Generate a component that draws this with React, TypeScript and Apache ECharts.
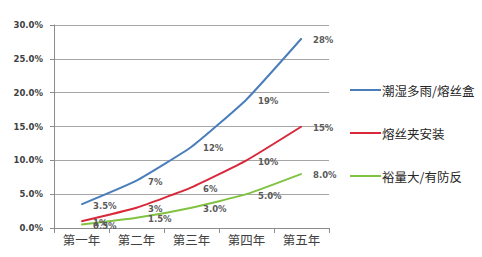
import React, { useEffect, useRef } from "react";
import * as echarts from "echarts";

const categories = ["第一年", "第二年", "第三年", "第四年", "第五年"];
const seriesNames = ["潮湿多雨/熔丝盒", "熔丝夹安装", "裕量大/有防反"];
const blueValues = [3.5, 7, 12, 19, 28];
const redValues = [1, 3, 6, 10, 15];
const greenValues = [0.5, 1.5, 3, 5, 8];
const blueLabels = ["3.5%", "7%", "12%", "19%", "28%"];
const redLabels = ["1%", "3%", "6%", "10%", "15%"];
const greenLabels = ["0.5%", "1.5%", "3.0%", "5.0%", "8.0%"];
const colors = ["#4a7ebb", "#d8283a", "#80c342"];

export default function App() {
  const ref = useRef<HTMLDivElement>(null);
  useEffect(() => {
    if (!ref.current) return;
    const chart = echarts.init(ref.current, undefined, { renderer: "svg" });
    const labelFont = {
      fontFamily: "DejaVu Sans",
      fontSize: 8.5,
      fontWeight: "bold" as const,
      color: "#595959",
    };
    const mk = (name: string, data: number[], labels: string[], color: string) => ({
      name,
      type: "line",
      data,
      smooth: 0.15,
      symbol: "circle",
      symbolSize: 1,
      showSymbol: true,
      itemStyle: { color },
      lineStyle: { color, width: 2 },
      label: {
        show: true,
        position: "right",
        distance: 11,
        offset: [0, 1.5],
        formatter: (p: any) => labels[p.dataIndex],
        ...labelFont,
      },
    });
    chart.setOption({
      animation: false,
      grid: { left: 54, right: 153, top: 25, bottom: 29 },
      legend: {
        orient: "vertical",
        left: 350,
        top: 83,
        padding: 0,
        icon: "rect",
        itemWidth: 31,
        itemHeight: 2,
        itemGap: 29,
        textStyle: {
          fontFamily: "Noto Sans CJK SC",
          fontSize: 12.5,
          color: "#262626",
          lineHeight: 14,
          padding: [0, 0, 0, -4],
        },
        data: seriesNames,
      },
      xAxis: {
        type: "category",
        data: categories,
        boundaryGap: true,
        axisLine: { lineStyle: { color: "#8c8c8c" } },
        axisTick: { show: true, length: 5, lineStyle: { color: "#8c8c8c" } },
        axisLabel: {
          fontFamily: "Noto Sans CJK SC",
          fontSize: 12.5,
          color: "#404040",
          margin: 5,
        },
      },
      yAxis: {
        type: "value",
        min: 0,
        max: 30,
        interval: 5,
        axisLine: { show: true, lineStyle: { color: "#8c8c8c" } },
        axisTick: { show: true, length: 4, lineStyle: { color: "#8c8c8c" } },
        splitLine: { lineStyle: { color: "#a6a6a6" } },
        axisLabel: {
          formatter: (v: number) => v.toFixed(1) + "%",
          fontFamily: "DejaVu Sans",
          fontSize: 8.5,
          fontWeight: "bold",
          color: "#404040",
          margin: 11,
        },
      },
      series: [
        mk(seriesNames[0], blueValues, blueLabels, colors[0]),
        mk(seriesNames[1], redValues, redLabels, colors[1]),
        mk(seriesNames[2], greenValues, greenLabels, colors[2]),
      ],
    });
    return () => chart.dispose();
  }, []);
  return <div ref={ref} style={{ width: 482, height: 257, position: "absolute", left: 0, top: 0, background: "#fff" }} />;
}
